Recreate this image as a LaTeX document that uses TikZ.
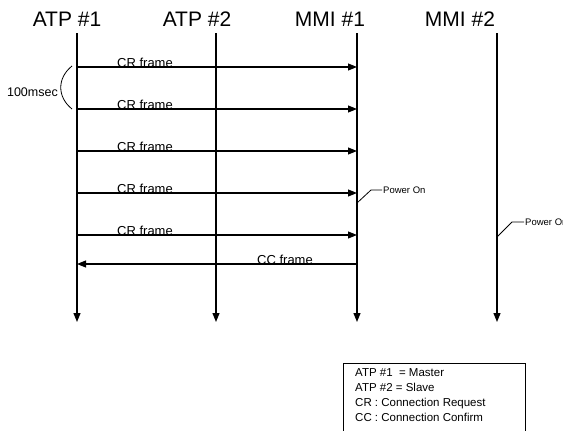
\documentclass[tikz,border=0pt]{standalone}
\usepackage{fontspec}
\setmainfont{Liberation Sans}
\usetikzlibrary{arrows.meta}
\begin{document}
\begin{tikzpicture}[x=1pt,y=-1pt,
  head/.style={font=\fontsize{21}{24}\selectfont, inner sep=0pt},
  life/.style={line width=1.2pt, -{Triangle[length=9pt,width=7pt]}},
  msg/.style={line width=1.1pt, -{Triangle[length=9pt,width=7pt]}},
  lbl/.style={font=\fontsize{13}{15}\selectfont, inner sep=0pt, anchor=base west},
  small/.style={font=\fontsize{9.5}{11}\selectfont, inner sep=0pt, anchor=west},
  leg/.style={font=\fontsize{11.5}{13}\selectfont, inner sep=0pt, anchor=base west}]
\useasboundingbox (0,0) rectangle (563,431);
\clip (0,0) rectangle (563,431);
% headers
\node[head] (h1) at (67,19) {ATP \#1};
\node[head] (h2) at (197,19) {ATP \#2};
\node[head] (h3) at (330,19) {MMI \#1};
\node[head] (h4) at (460,19) {MMI \#2};
% lifelines
\foreach \n/\x in {a/77,b/216,c/357,d/497}{
  \coordinate (\n top) at (\x,33);
  \coordinate (\n bot) at (\x,322);
  \draw[life] (\n top) -- (\n bot);
}
% CR frames
\foreach \i/\y in {1/67,2/109,3/151,4/193,5/235}{
  \coordinate (s\i) at (77,\y);
  \coordinate (e\i) at (357,\y);
  \draw[msg] (s\i) -- (e\i);
  \node[lbl] (cr\i) at (117,\y) {CR frame};
}
% CC frame
\coordinate (ccs) at (357,264);
\coordinate (cce) at (77,264);
\draw[msg] (ccs) -- (cce);
\node[lbl] (cc) at (257,264) {CC frame};
% 100msec brace
\coordinate (br1) at (72,66);
\coordinate (br2) at (72,109);
\draw[line width=0.8pt] (br1) .. controls (57,78) and (57,97) .. (br2);
\node[font=\fontsize{12.5}{14}\selectfont, inner sep=0pt, anchor=east] (ms) at (58,92) {100msec};
% Power On callouts
\coordinate (p1a) at (357,203);
\coordinate (p1b) at (371,190);
\coordinate (p1c) at (382,190);
\draw[line width=0.8pt] (p1a) -- (p1b) -- (p1c);
\node[small] (pw1) at (383,190) {Power On};
\coordinate (p2a) at (497,237);
\coordinate (p2b) at (512,222);
\coordinate (p2c) at (524,222);
\draw[line width=0.8pt] (p2a) -- (p2b) -- (p2c);
\node[small] (pw2) at (525,222) {Power On};
% legend
\draw[line width=0.9pt] (343,363) rectangle (525,445);
\node[leg] (l1) at (355,376) {ATP \#1 \ = Master};
\node[leg] (l2) at (355,391) {ATP \#2 = Slave};
\node[leg] (l3) at (355,406) {CR : Connection Request};
\node[leg] (l4) at (355,421) {CC : Connection Confirm};
\end{tikzpicture}
\end{document}
